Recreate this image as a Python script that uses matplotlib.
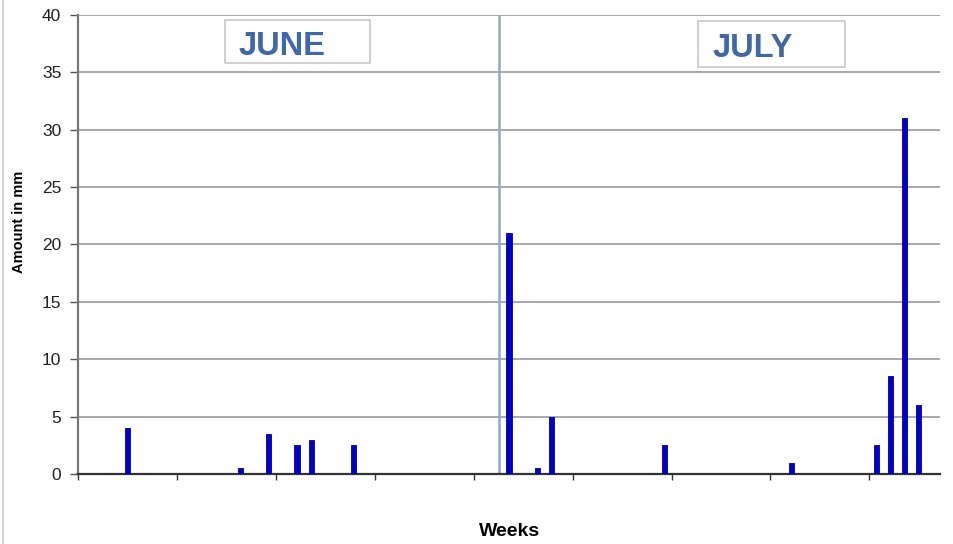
import matplotlib
matplotlib.use("Agg")
import matplotlib.pyplot as plt
from matplotlib.patches import Rectangle
from matplotlib.lines import Line2D
import numpy as np

plt.rcParams['font.family'] = ['Liberation Sans', 'DejaVu Sans']

# Daily rainfall: June (30 days) then July (31 days)
june_days = 30
july_days = 31
rain_days = [3, 11, 13, 15, 16, 19, 30, 32, 33, 41, 50, 56, 57, 58, 59]
rain_mm = [4.0, 0.5, 3.5, 2.5, 3.0, 2.5, 21.0, 0.5, 5.0, 2.5, 1.0, 2.5, 8.5, 31.0, 6.0]
month_labels = ["JUNE", "JULY"]
y_ticks = [0, 5, 10, 15, 20, 25, 30, 35, 40]

n_days = june_days + july_days
values = np.zeros(n_days)
for d, v in zip(rain_days, rain_mm):
    values[d] = v

fig = plt.figure(figsize=(9.54, 5.44), dpi=100)
ax = fig.add_axes([78/954, 1-474/544, 862/954, 459/544])

x = np.arange(n_days) + 0.5
ax.bar(x, values, width=0.36, color='#0000CC', edgecolor='#00009A', linewidth=0.6, zorder=3)

ax.set_xlim(0, n_days)
ax.set_ylim(0, 40)
ax.set_yticks(y_ticks)
ax.set_yticklabels([str(t) for t in y_ticks], fontsize=12.5, color='#222222')
ax.yaxis.grid(True, color='#9a9a9a', linewidth=1.2, zorder=0)
ax.set_axisbelow(True)

ax.set_xticks(np.arange(0, n_days, 7))
ax.set_xticklabels([])
ax.tick_params(axis='x', direction='out', length=4, width=1, color='#333333')
ax.tick_params(axis='y', direction='out', length=6, width=1, color='#555555', pad=6)

for s in ['top', 'right']:
    ax.spines[s].set_visible(False)
ax.spines['left'].set_color('#777777')
ax.spines['left'].set_linewidth(1.6)
ax.spines['bottom'].set_color('#333333')
ax.spines['bottom'].set_linewidth(1.6)

# month divider
ax.axvline(june_days - 0.2, color='#8FA8CC', linewidth=1.8, zorder=2)

# axis titles
fig.text(19/954, 1-222/544, "Amount in mm", fontsize=10.5, fontweight='bold',
         rotation=90, ha='center', va='center')
fig.text(510/954, 1-531/544, "Weeks", fontsize=14, fontweight='bold',
         ha='center', va='center')

# month label boxes (figure pixel coords)
def fig_box(x0, y0, x1, y1):
    fig.patches.append(Rectangle((x0/954, 1-y1/544), (x1-x0)/954, (y1-y0)/544,
                                 transform=fig.transFigure, facecolor='white',
                                 edgecolor='#C8C8C8', linewidth=1.2, zorder=5))

fig_box(225, 20, 370, 63)
fig.text(239/954, 1-55/544, month_labels[0], fontsize=23.5, fontweight='bold',
         color='#4068A8', ha='left', va='baseline', zorder=6)
fig_box(698, 21, 845, 67)
fig.text(713/954, 1-57/544, month_labels[1], fontsize=23.5, fontweight='bold',
         color='#4068A8', ha='left', va='baseline', zorder=6)

# faint outer frame line at left
fig.add_artist(Line2D([3/954, 3/954], [0, 1], transform=fig.transFigure,
                      color='#CCCCCC', linewidth=1.2))

fig.savefig("out.png", dpi=100, facecolor='white')
